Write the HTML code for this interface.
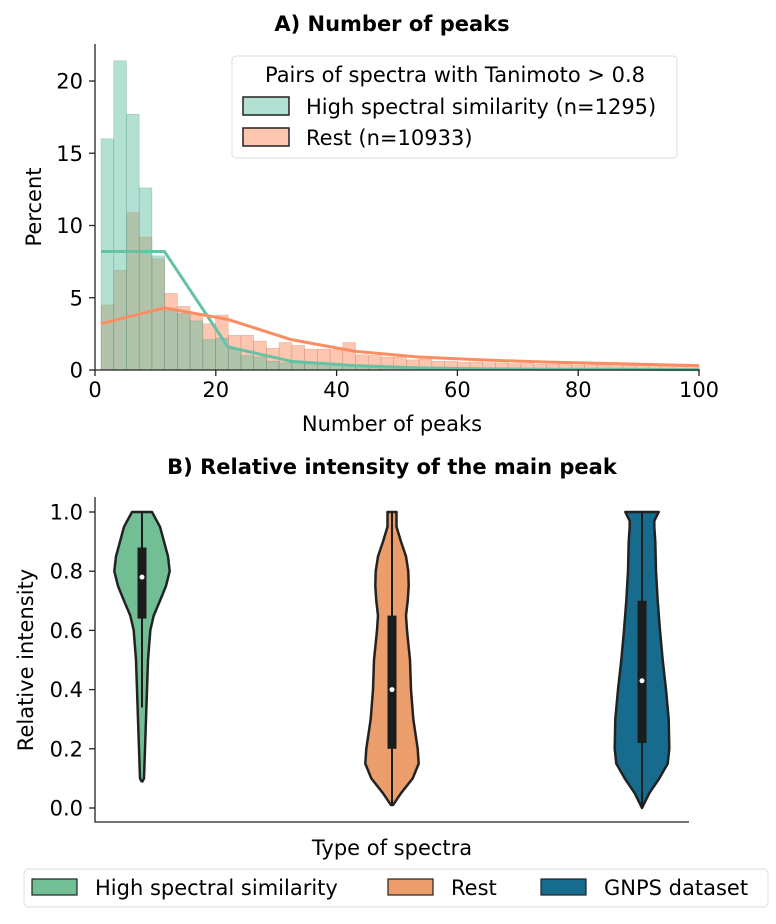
<!DOCTYPE html>
<html><head><meta charset="utf-8"><style>
body{margin:0;background:#fff;}
svg{display:block;font-family:"DejaVu Sans","Liberation Sans",sans-serif;}
</style></head><body>
<svg id="chart" width="776" height="924" viewBox="0 0 776 924" xmlns="http://www.w3.org/2000/svg">
<g id="hist"></g>
<g id="viol"></g>
</svg>
<script>
// ---- Panel A data ----
const binStart = 1, binWidth = 99/47;
const greenPct = [16.0,21.4,17.7,12.6,7.9,4.1,3.9,3.4,2.1,2.2,1.4,1.0,0.9,0.6,0.5,0.55,0.45,0.4,0.35,0.3,0.25,0.22,0.2,0.18,0.15,0.12,0.12,0.1,0.1,0.1,0.08,0.08,0.08,0.08,0.08,0.08,0.08,0.08,0.08,0.08,0.08,0.08,0.08,0.08,0.08,0.08,0.08];
const restPct = [4.5,6.9,10.9,9.2,7.7,5.3,4.4,3.9,3.2,3.8,2.4,2.4,2.0,1.5,1.9,1.7,1.45,1.45,1.4,1.9,1.05,1.0,0.9,0.9,0.7,0.75,0.6,0.6,0.55,0.55,0.5,0.5,0.45,0.45,0.4,0.4,0.4,0.35,0.4,0.35,0.3,0.3,0.3,0.3,0.3,0.25,0.3];
const lineX = [1,11.5,22,32.5,43,53.5,64,74.5,85,95.5,100];
const greenLine = [8.2,8.2,1.6,0.6,0.3,0.15,0.08,0.05,0.05,0.03,0.03];
const restLine = [3.2,4.3,3.5,2.1,1.3,0.9,0.7,0.55,0.45,0.35,0.3];
const xTicksA = [0,20,40,60,80,100];
const yTicksA = [0,5,10,15,20];
// ---- Panel B data ----
const violinNames = ["High spectral similarity","Rest","GNPS dataset"];
const violinVals = [
 [0.09,0.1,0.2,0.3,0.4,0.5,0.6,0.65,0.7,0.75,0.8,0.85,0.9,0.95,1.0],
 [0.01,0.05,0.1,0.15,0.2,0.3,0.4,0.5,0.6,0.65,0.7,0.75,0.8,0.85,0.9,0.95,1.0],
 [0.0,0.05,0.1,0.15,0.2,0.3,0.4,0.5,0.6,0.7,0.8,0.9,0.95,0.97,1.0]
];
const violinDens = [
 [0.5,2,3,4,5,6,8.3,11.7,18,24,27.7,26,22,18,10],
 [1,9,20.7,26.7,25.7,21.3,19,18,15,14,15.7,16.7,16.3,14,9,4.5,4.5],
 [0,7.3,17.3,25.7,27.3,26.7,24,20.7,18,15.7,14,13.3,12.3,12.3,16.7]
];
const q1 = [0.64,0.20,0.22];
const q3 = [0.88,0.65,0.70];
const medians = [0.78,0.40,0.43];
const whiskLo = [0.34,0.01,0.0];
const whiskHi = [1.0,1.0,1.0];
const yTicksB = [0.0,0.2,0.4,0.6,0.8,1.0];

const FS=21;
const NS="http://www.w3.org/2000/svg";
function mk(parent,tag,attrs,text){const e=document.createElementNS(NS,tag);for(const k in attrs)e.setAttribute(k,attrs[k]);if(text!==undefined)e.textContent=text;parent.appendChild(e);return e;}

// ===== Panel A =====
const H=document.getElementById('hist');
const ax=v=>95+v*6.04, ay=v=>370-v*14.45;
let t=mk(H,'text',{x:392,y:31,'text-anchor':'middle','font-size':FS,'font-weight':'bold'},'A) Number of peaks');


function bars(arr,fill,edge,name){
 arr.forEach((v,i)=>{
  const x0=ax(binStart+i*binWidth),x1=ax(binStart+(i+1)*binWidth);
  const r=mk(H,'rect',{x:x0,y:ay(v),width:x1-x0,height:ay(0)-ay(v),fill:fill,'fill-opacity':0.5,stroke:edge,'stroke-opacity':0.35,'stroke-width':0.6});
  
  
 });
}
bars(restPct,'#fc8d62','#c0623c','rest');
bars(greenPct,'#66c2a5','#3f8a70','high-sim');
function line(ys,color,name){
 const p=mk(H,'polyline',{points:lineX.map((x,i)=>ax(x)+','+ay(ys[i])).join(' '),fill:'none',stroke:color,'stroke-width':3,'stroke-linejoin':'round'});
 
 
}
line(greenLine,'#66c2a5','high-sim-line');
line(restLine,'#fc8d62','rest-line');
let s=mk(H,'path',{d:'M95 44V370H700',fill:'none',stroke:'#222','stroke-width':1.3});


xTicksA.forEach(v=>{
 mk(H,'line',{x1:ax(v),x2:ax(v),y1:370,y2:376,stroke:'#222','stroke-width':1.3});
 const l=mk(H,'text',{x:ax(v),y:397,'text-anchor':'middle','font-size':FS},String(v));
 
 
});
yTicksA.forEach(v=>{
 mk(H,'line',{x1:89,x2:95,y1:ay(v),y2:ay(v),stroke:'#222','stroke-width':1.3});
 const l=mk(H,'text',{x:83,y:ay(v)+7.5,'text-anchor':'end','font-size':FS},String(v));
 
 
});
t=mk(H,'text',{x:392,y:431,'text-anchor':'middle','font-size':FS},'Number of peaks');


t=mk(H,'text',{x:41,y:207,'text-anchor':'middle','font-size':FS,transform:'rotate(-90 41 207)'},'Percent');


const lg=mk(H,'g',{});


mk(lg,'rect',{x:232,y:56,width:445,height:102,rx:4,fill:'#fff','fill-opacity':0.85,stroke:'#ddd'});
mk(lg,'text',{x:455,y:82,'text-anchor':'middle','font-size':FS},'Pairs of spectra with Tanimoto > 0.8');
mk(lg,'rect',{x:243,y:97,width:46,height:18,fill:'#b2e0d2',stroke:'#222','stroke-width':1.5});
mk(lg,'text',{x:306,y:114,'font-size':FS},'High spectral similarity (n=1295)');
mk(lg,'rect',{x:243,y:128,width:46,height:18,fill:'#fdc6b0',stroke:'#222','stroke-width':1.5});
mk(lg,'text',{x:306,y:145,'font-size':FS},'Rest (n=10933)');

// ===== Panel B =====
const V=document.getElementById('viol');
const by=v=>808-v*296;
const centers=[142,392,642];
const vcolors=['#72bf96','#eb9e6c','#176b8c'];
t=mk(V,'text',{x:392,y:474,'text-anchor':'middle','font-size':FS,'font-weight':'bold'},'B) Relative intensity of the main peak');


violinVals.forEach((vals,k)=>{
 const c=centers[k],d=violinDens[k];
 const right=vals.map((v,i)=>(c+d[i])+','+by(v));
 const left=vals.map((v,i)=>(c-d[i])+','+by(v)).reverse();
 const g=mk(V,'g',{});
 
 
 mk(g,'polygon',{points:right.concat(left).join(' '),fill:vcolors[k],stroke:'#222','stroke-width':2.5,'stroke-linejoin':'round'});
 mk(g,'line',{x1:c,x2:c,y1:by(whiskLo[k]),y2:by(whiskHi[k]),stroke:'#1c1c1c','stroke-width':2});
 mk(g,'rect',{x:c-4.5,y:by(q3[k]),width:9,height:by(q1[k])-by(q3[k]),fill:'#1c1c1c'});
 mk(g,'circle',{cx:c,cy:by(medians[k]),r:2.5,fill:'#fff'});
});
s=mk(V,'path',{d:'M95 497V822H689',fill:'none',stroke:'#222','stroke-width':1.3});


yTicksB.forEach(v=>{
 mk(V,'line',{x1:89,x2:95,y1:by(v),y2:by(v),stroke:'#222','stroke-width':1.3});
 const l=mk(V,'text',{x:83,y:by(v)+7.5,'text-anchor':'end','font-size':FS},v.toFixed(1));
 
 
});
t=mk(V,'text',{x:392,y:855,'text-anchor':'middle','font-size':FS},'Type of spectra');


t=mk(V,'text',{x:33,y:660,'text-anchor':'middle','font-size':FS,transform:'rotate(-90 33 660)'},'Relative intensity');


const lb=mk(V,'g',{});


mk(lb,'rect',{x:24,y:869,width:744,height:38,rx:4,fill:'#fff',stroke:'#ddd'});
const lx=[32,388,541];
violinNames.forEach((n,k)=>{
 mk(lb,'rect',{x:lx[k],y:879,width:45,height:16,fill:vcolors[k],stroke:'#222','stroke-width':1.2});
 mk(lb,'text',{x:lx[k]+63,y:895,'font-size':FS},n);
});
</script>
</body></html>
